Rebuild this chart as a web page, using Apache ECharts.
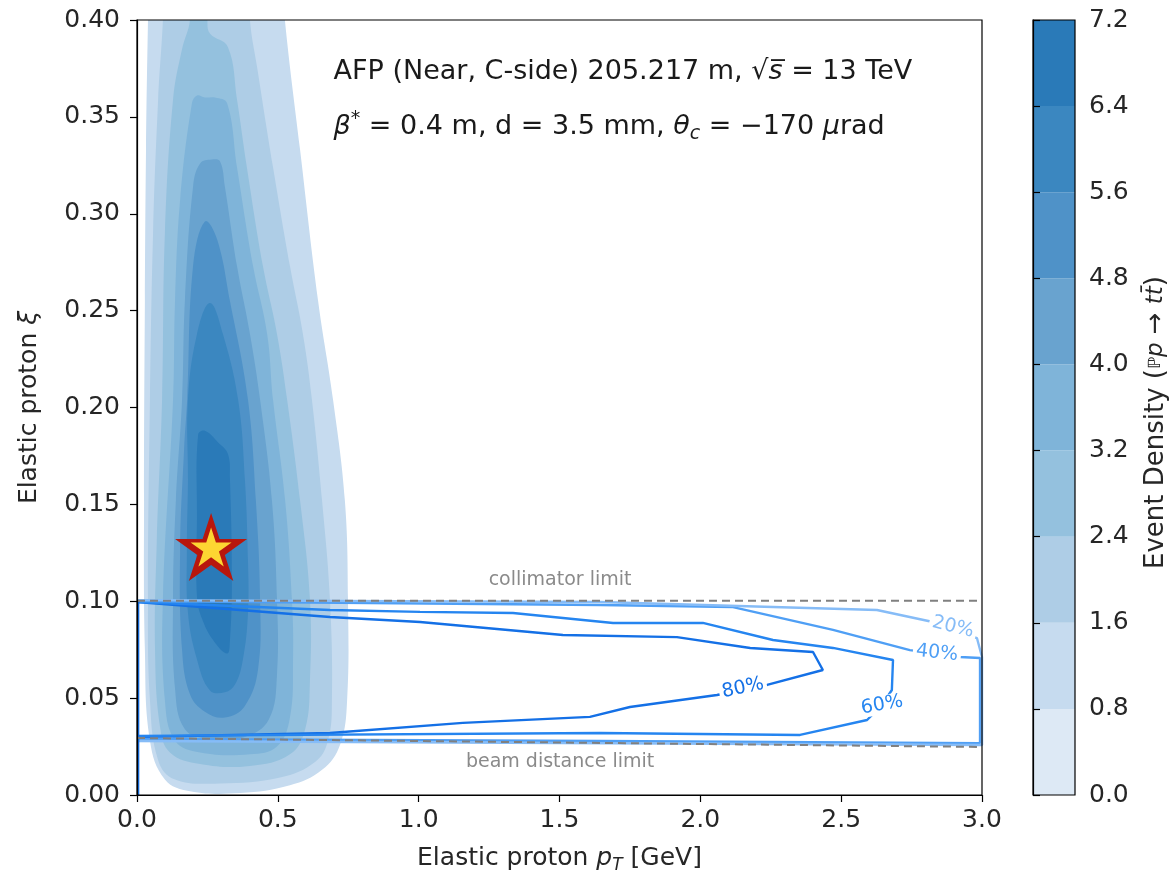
<!DOCTYPE html>
<html>
<head>
<meta charset="utf-8">
<script src="https://cdn.jsdelivr.net/npm/echarts@6/dist/echarts.min.js"></script>
<style>
html,body{margin:0;padding:0;background:#fff}
#main{width:1176px;height:875px}
</style>
</head>
<body>
<div id="main"></div>
<script>
// colour bar levels and band colours
var densityLevels = [0, 0.8, 1.6, 2.4, 3.2, 4.0, 4.8, 5.6, 6.4, 7.2];
var bandColors = ['#dde9f5', '#c6dbef', '#aecde6', '#94c1de', '#7fb4d9', '#69a3cf', '#4f92c8', '#3b87c0', '#2a7ab8'];

// filled density contours (pT [GeV], xi), one closed boundary per level; lowest band is not shaded
var contour08 = [[0.045,0.440],[0.039,0.400],[0.032,0.333],[0.028,0.255],[0.025,0.152],[0.028,0.075],[0.046,0.028],[0.099,0.008],[0.188,0.002],[0.366,0.001],[0.543,0.005],[0.657,0.013],[0.721,0.026],[0.746,0.049],[0.749,0.101],[0.738,0.152],[0.696,0.204],[0.643,0.255],[0.579,0.333],[0.525,0.400],[0.505,0.440]];
var contour16 = [[0.100,0.440],[0.092,0.400],[0.075,0.359],[0.057,0.290],[0.046,0.204],[0.039,0.101],[0.046,0.049],[0.075,0.018],[0.135,0.008],[0.295,0.006],[0.508,0.009],[0.632,0.017],[0.678,0.028],[0.692,0.049],[0.685,0.101],[0.657,0.152],[0.621,0.204],[0.589,0.238],[0.543,0.273],[0.483,0.324],[0.426,0.376],[0.401,0.400],[0.390,0.440]];
var contour24 = [[0.200,0.440],[0.188,0.400],[0.160,0.385],[0.128,0.359],[0.099,0.290],[0.089,0.204],[0.070,0.130],[0.064,0.075],[0.082,0.035],[0.117,0.022],[0.224,0.016],[0.401,0.015],[0.543,0.021],[0.597,0.034],[0.614,0.059],[0.614,0.101],[0.579,0.152],[0.533,0.204],[0.497,0.238],[0.447,0.273],[0.390,0.324],[0.355,0.359],[0.323,0.386],[0.259,0.393],[0.250,0.400],[0.248,0.440]];
var contour32 = [[0.213,0.361],[0.241,0.360],[0.277,0.360],[0.320,0.357],[0.355,0.324],[0.412,0.273],[0.462,0.238],[0.483,0.204],[0.526,0.152],[0.550,0.101],[0.554,0.070],[0.543,0.040],[0.497,0.025],[0.401,0.021],[0.224,0.022],[0.135,0.028],[0.099,0.049],[0.092,0.101],[0.128,0.204],[0.135,0.255],[0.153,0.307],[0.195,0.357]];
var contour40 = [[0.224,0.326],[0.266,0.328],[0.295,0.327],[0.312,0.314],[0.355,0.273],[0.401,0.238],[0.437,0.204],[0.479,0.152],[0.497,0.101],[0.497,0.062],[0.468,0.039],[0.383,0.030],[0.259,0.029],[0.170,0.034],[0.135,0.055],[0.128,0.101],[0.138,0.152],[0.160,0.204],[0.170,0.255],[0.199,0.314]];
var contour48 = [[0.241,0.296],[0.284,0.287],[0.330,0.255],[0.394,0.204],[0.422,0.152],[0.437,0.101],[0.430,0.065],[0.383,0.046],[0.312,0.040],[0.241,0.043],[0.188,0.052],[0.160,0.075],[0.153,0.126],[0.167,0.178],[0.178,0.204],[0.199,0.273]];
var contour56 = [[0.259,0.254],[0.305,0.238],[0.359,0.204],[0.383,0.163],[0.394,0.121],[0.394,0.094],[0.376,0.070],[0.348,0.057],[0.312,0.053],[0.259,0.054],[0.213,0.070],[0.181,0.094],[0.177,0.126],[0.181,0.163],[0.181,0.204],[0.213,0.238]];
var contour64 = [[0.241,0.188],[0.288,0.182],[0.323,0.176],[0.330,0.163],[0.337,0.111],[0.330,0.080],[0.320,0.073],[0.270,0.080],[0.231,0.091],[0.213,0.102],[0.213,0.145],[0.217,0.186]];
var densityContours = [contour08, contour16, contour24, contour32, contour40, contour48, contour56, contour64];

// acceptance contours
var acc80 = [[0,0.0996],[0.685,0.0919],[1.005,0.0893],[1.512,0.0826],[1.917,0.0815],[2.177,0.0759],[2.400,0.0738],[2.435,0.0645],[2.237,0.0568],[2.059,0.0516],[1.750,0.0454],[1.608,0.0403],[1.157,0.0372],[0.685,0.0320],[0,0.0299]];
var acc60 = [[0,0.0996],[0.685,0.0955],[1.005,0.0945],[1.335,0.0939],[1.690,0.0888],[2.009,0.0888],[2.258,0.0800],[2.471,0.0759],[2.684,0.0697],[2.680,0.0542],[2.645,0.0465],[2.592,0.0387],[2.354,0.0310],[1.644,0.0320],[0,0.0305]];
var acc40 = [[0,0.1001],[1.644,0.0981],[2.116,0.0970],[2.471,0.0852],[2.744,0.0748],[2.922,0.0712],[2.993,0.0707],[2.993,0.0268],[1.644,0.0279],[0,0.0289]];
var acc20 = [[0,0.1006],[1.644,0.0996],[2.627,0.0955],[2.826,0.0893],[2.982,0.0810],[3.0,0.0712],[3.0,0.0258],[0,0.0279]];
var accEdge = [[0.004,0],[0.004,0.0996]];
var accNames = ['80%', '60%', '40%', '20%'];
var accLabelPos = [[2.151,0.0552],[2.645,0.0465],[2.840,0.0733],[2.897,0.0867]];
var accLabelRot = [12, 10, -6, -14];
var accColors = ['#1470e6', '#2585f0', '#4f9ff5', '#86bcf7'];

// detector limits
var collimatorLine = [[0,0.1003],[3,0.1003]];
var beamLine = [[0,0.0294],[3,0.0248]];
var limitText = ['collimator limit', 'beam distance limit'];
var limitPos = [[1.502,0.111],[1.502,0.017]];

var starPoint = [0.263, 0.128];
var notePos = [[0.696,0.373],[0.696,0.345]];

var xTicks = [0, 3, 0.5];
var yTicks = [0, 0.4, 0.05];

var FONT = 'DejaVu Sans';
var starPath = 'path://M0,-100L22.45,-30.9L95.1,-30.9L36.33,11.8L58.78,80.9L0,38.2L-58.78,80.9L-36.33,11.8L-95.1,-30.9L-22.45,-30.9Z';

var chart = echarts.init(document.getElementById('main'));

var series = [];
densityContours.forEach(function (poly, i) {
    series.push({
        type: 'custom',
        xAxisIndex: 0,
        yAxisIndex: 0,
        clip: true,
        z: 1,
        silent: true,
        data: [poly[1]],
        renderItem: function (params, api) {
            return {
                type: 'polygon',
                shape: {points: poly.map(function (p) { return api.coord(p); }), smooth: 0.4},
                style: {fill: bandColors[i + 1]}
            };
        }
    });
});

// colour bar
series.push({
    type: 'custom',
    xAxisIndex: 1,
    yAxisIndex: 1,
    silent: true,
    z: 1,
    data: bandColors.map(function (c, i) { return [0.5, densityLevels[i], densityLevels[i + 1]]; }),
    encode: {x: 0, y: [1, 2]},
    renderItem: function (params, api) {
        var a = api.coord([0, api.value(1)]);
        var b = api.coord([1, api.value(2)]);
        return {
            type: 'rect',
            shape: {x: a[0], y: b[1], width: b[0] - a[0], height: a[1] - b[1]},
            style: {fill: bandColors[params.dataIndex]}
        };
    }
});

[acc80, acc60, acc40, acc20].forEach(function (d, i) {
    series.push({
        type: 'line', data: d, showSymbol: false, silent: true, z: 3,
        lineStyle: {color: accColors[i], width: 2.4}
    });
});
series.push({type: 'line', data: accEdge, showSymbol: false, silent: true, z: 3,
    lineStyle: {color: accColors[0], width: 2.4}});

[collimatorLine, beamLine].forEach(function (d) {
    series.push({
        type: 'line', data: d, showSymbol: false, silent: true, z: 4,
        lineStyle: {color: '#808080', width: 2, type: [8, 5]}
    });
});

// star
series.push({type: 'scatter', data: [starPoint], symbol: starPath, symbolSize: [72, 68], z: 6, silent: true,
    itemStyle: {color: '#b8170d', opacity: 1}});
series.push({type: 'scatter', data: [starPoint], symbol: starPath, symbolSize: [41, 39], z: 7, silent: true,
    itemStyle: {color: '#fdd632', opacity: 1}});

var hidden = {color: 'rgba(0,0,0,0)', opacity: 1};

// contour labels
series.push({
    type: 'scatter', symbolSize: 1, z: 8, silent: true,
    itemStyle: hidden,
    data: accNames.map(function (n, i) {
        return {
            value: accLabelPos[i], name: n,
            label: {rotate: accLabelRot[i], color: accColors[i]}
        };
    }),
    label: {show: true, position: 'inside', formatter: '{b}', fontFamily: FONT, fontSize: 19,
        backgroundColor: '#fff', padding: [0, 3]}
});

// limit labels
series.push({
    type: 'scatter', symbolSize: 1, z: 8, silent: true,
    itemStyle: hidden,
    data: limitText.map(function (t, i) { return {value: limitPos[i], name: t}; }),
    label: {show: true, position: 'inside', formatter: '{b}', fontFamily: FONT, fontSize: 19, color: '#8a8a8a'}
});

// beam condition notes
var richMath = {
    it: {fontStyle: 'italic', fontFamily: FONT, fontSize: 27, color: '#1a1a1a', lineHeight: 34},
    sup: {fontFamily: FONT, fontSize: 19, color: '#1a1a1a', lineHeight: 16, verticalAlign: 'top'},
    sub: {fontStyle: 'italic', fontFamily: FONT, fontSize: 19, color: '#1a1a1a', lineHeight: 16, verticalAlign: 'bottom'}
};
series.push({
    type: 'scatter', symbolSize: 1, z: 8, silent: true,
    itemStyle: hidden,
    data: [
        {value: notePos[0], name: 'AFP (Near, C-side) 205.217 m, \u221A{it|s\u0305} = 13 TeV'},
        {value: notePos[1], name: '{it|\u03B2}{sup|*} = 0.4 m, d = 3.5 mm, {it|\u03B8}{sub|c} = \u2212170 {it|\u03BC}rad'}
    ],
    label: {show: true, position: 'right', distance: 0, formatter: '{b}', fontFamily: FONT, fontSize: 27,
        color: '#1a1a1a', lineHeight: 34, rich: richMath}
});

var axisLine = {show: true, lineStyle: {color: '#000', width: 1.2}};
var axisTick = {show: true, inside: false, length: 7, lineStyle: {color: '#000', width: 1.2}};
var labelFont = {fontFamily: FONT, fontSize: 25, color: '#262626'};

var option = {
    animation: false,
    backgroundColor: '#fff',
    grid: [
        {left: 137, top: 20, width: 845, height: 775, outerBoundsMode: 'none', containLabel: false,
            show: true, borderColor: '#000', borderWidth: 1.2, z: 10},
        {left: 1033, top: 20, width: 42, height: 775, outerBoundsMode: 'none', containLabel: false,
            show: true, borderColor: '#000', borderWidth: 1.2, z: 10}
    ],
    xAxis: [
        {
            gridIndex: 0, type: 'value', min: xTicks[0], max: xTicks[1], interval: xTicks[2], z: 10,
            axisLine: axisLine, axisTick: axisTick, splitLine: {show: false},
            axisLabel: Object.assign({margin: 13, formatter: function (v) { return v.toFixed(1); }}, labelFont),
            name: 'Elastic proton {it|p}{sub|T} [GeV]', nameLocation: 'middle', nameGap: 47,
            nameTextStyle: Object.assign({lineHeight: 32, rich: {
                it: {fontStyle: 'italic', fontFamily: FONT, fontSize: 25, color: '#262626', lineHeight: 32},
                sub: {fontStyle: 'italic', fontFamily: FONT, fontSize: 17, color: '#262626', lineHeight: 14, verticalAlign: 'bottom'}}}, labelFont)
        },
        {gridIndex: 1, type: 'value', min: 0, max: 1, show: false}
    ],
    yAxis: [
        {
            gridIndex: 0, type: 'value', min: yTicks[0], max: yTicks[1], interval: yTicks[2], z: 10,
            axisLine: axisLine, axisTick: axisTick, splitLine: {show: false},
            axisLabel: Object.assign({margin: 17, formatter: function (v) { return v.toFixed(2); }}, labelFont),
            name: 'Elastic proton {it|\u03BE}', nameLocation: 'middle', nameGap: 95, nameRotate: 90,
            nameTextStyle: Object.assign({rich: {it: {fontStyle: 'italic', fontFamily: FONT, fontSize: 25, color: '#262626'}}}, labelFont)
        },
        {
            gridIndex: 1, type: 'value', position: 'right', min: densityLevels[0], max: densityLevels[9], interval: 0.8, z: 10,
            axisLine: axisLine, axisTick: axisTick, splitLine: {show: false},
            axisLabel: Object.assign({margin: 14, formatter: function (v) { return v.toFixed(1); }}, labelFont),
            name: 'Event Density ({bb|\u2119}{it|p} \u2192 {it|t\u0074\u0304})', nameLocation: 'middle', nameGap: 68, nameRotate: 90,
            nameTextStyle: Object.assign({padding: [0, 30, 0, 0], rich: {
                it: {fontStyle: 'italic', fontFamily: FONT, fontSize: 23, color: '#262626'},
                bb: {fontFamily: FONT, fontSize: 17, color: '#262626'}}}, labelFont, {fontSize: 26})
        }
    ],
    series: series
};

chart.setOption(option);
</script>
</body>
</html>
